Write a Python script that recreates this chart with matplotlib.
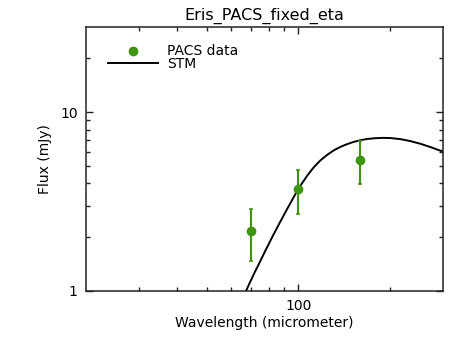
import matplotlib
matplotlib.use("Agg")
import matplotlib.pyplot as plt
from matplotlib.lines import Line2D
from matplotlib.ticker import FixedLocator, NullFormatter, FixedFormatter

# PACS photometry (micrometer, mJy)
WAVE = [70, 100, 160]
FLUX = [2.17, 3.74, 5.44]
ERR = [0.70, 1.04, 1.47]

# STM model curve
STM_WAVE = [67.3, 71.1, 74.9, 78.8, 82.8, 87.2, 91.8, 96.5, 100.2, 106.9,
            112.4, 118.3, 124.5, 130.9, 137.7, 145.0, 152.4, 160.4, 168.8,
            179.9, 191.2, 201.6, 217.7, 234.9, 253.5, 273.6, 302.0]
STM_FLUX = [1.00, 1.222, 1.462, 1.742, 2.058, 2.432, 2.859, 3.334, 3.742, 4.398,
            4.910, 5.374, 5.771, 6.117, 6.400, 6.636, 6.828, 6.980, 7.089,
            7.163, 7.191, 7.172, 7.071, 6.890, 6.654, 6.375, 6.00]

GREEN = "#3f9512"

fig = plt.figure(figsize=(4.69, 3.46), dpi=100)
ax = fig.add_axes([86 / 469, 55 / 346, 357 / 469, 264 / 346])

ax.plot(STM_WAVE, STM_FLUX, color="black", lw=1.4)
ax.errorbar(WAVE, FLUX, yerr=ERR, fmt="none", ecolor=GREEN, elinewidth=1.5,
            capsize=1.6, capthick=1.2)
ax.plot(WAVE, FLUX, "o", color=GREEN, ms=6)

ax.set_xscale("log")
ax.set_yscale("log")
ax.set_xlim(20, 300)
ax.set_ylim(1, 30)

ax.xaxis.set_major_locator(FixedLocator([100]))
ax.xaxis.set_major_formatter(FixedFormatter(["100"]))
ax.xaxis.set_minor_locator(FixedLocator([30, 40, 50, 60, 70, 80, 90, 200]))
ax.xaxis.set_minor_formatter(NullFormatter())
ax.yaxis.set_major_locator(FixedLocator([1, 10]))
ax.yaxis.set_major_formatter(FixedFormatter(["1", "10"]))
ax.yaxis.set_minor_locator(FixedLocator([2, 3, 4, 5, 6, 7, 8, 9, 20]))
ax.yaxis.set_minor_formatter(NullFormatter())

ax.tick_params(which="both", direction="in", top=True, right=True,
               labelsize=10, width=1.0, color="#222222")
ax.tick_params(which="major", length=5, pad=6)
ax.tick_params(which="minor", length=2.8)
for s in ax.spines.values():
    s.set_linewidth(1.1)
    s.set_color("#222222")

ax.set_title("Eris_PACS_fixed_eta", fontsize=11.5, pad=5)
ax.set_xlabel("Wavelength (micrometer)", fontsize=10, labelpad=2)
ax.set_ylabel("Flux (mJy)", fontsize=10, labelpad=6)

handles = [
    Line2D([], [], ls="none", marker="o", color=GREEN, ms=6),
    Line2D([], [], color="black", lw=1.4),
]
ax.legend(handles, ["PACS data", "STM"], loc="upper left", frameon=False,
          fontsize=10, handlelength=3.6, handletextpad=0.6,
          labelspacing=-0.1, bbox_to_anchor=(0.047, 0.955), borderaxespad=0)

fig.savefig("out.png", dpi=100)
